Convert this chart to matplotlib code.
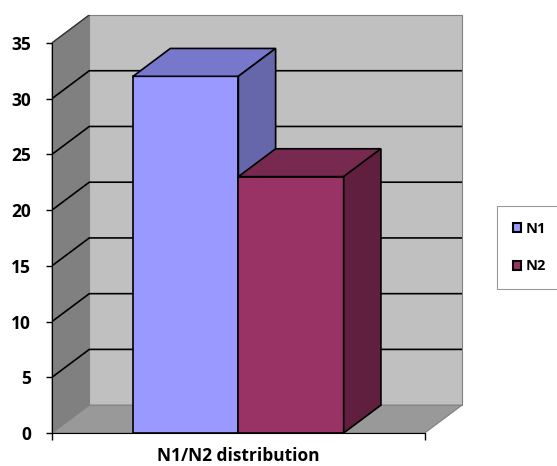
import matplotlib.pyplot as plt
from matplotlib.patches import Polygon, Patch

# series
categories = ["N1", "N2"]
values = [32, 23]
front_colors = ["#9999FF", "#993366"]
top_colors = ["#7777CC", "#77294F"]
side_colors = ["#6666AA", "#611F40"]
yticks = [0, 5, 10, 15, 20, 25, 30, 35]
xlabel = "N1/N2 distribution"

ymax = 35
ddx, ddy = 0.1, 2.5   # depth offset of the fake 3d box

plt.rcParams['font.family'] = ['Open Sans', 'DejaVu Sans']
fig = plt.figure(figsize=(5.57, 4.66), dpi=100)
ax = fig.add_axes([52 / 557, 33 / 466, 410 / 557, 418 / 466])
ax.set_xlim(0, 1 + ddx)
ax.set_ylim(0, ymax + ddy)

# walls and floor
wall_edge = "#808080"
ax.add_patch(Polygon([(0, 0), (0, ymax), (ddx, ymax + ddy), (ddx, ddy)],
                     closed=True, fc="#808080", ec=wall_edge, lw=0.8, zorder=0, clip_on=False))
ax.add_patch(Polygon([(ddx, ddy), (ddx, ymax + ddy), (1 + ddx, ymax + ddy), (1 + ddx, ddy)],
                     closed=True, fc="#C0C0C0", ec=wall_edge, lw=0.8, zorder=0, clip_on=False))
ax.add_patch(Polygon([(0, 0), (1, 0), (1 + ddx, ddy), (ddx, ddy)],
                     closed=True, fc="#999999", ec=wall_edge, lw=0.8, zorder=0, clip_on=False))

# gridlines: side wall diagonal + back wall
for v in yticks[1:-1]:
    ax.plot([0, ddx, 1 + ddx], [v, v + ddy, v + ddy], color="black", lw=1.2, zorder=1,
            solid_capstyle="butt")
ax.plot([0, ddx], [ymax, ymax + ddy], color="#333333", lw=1.0, zorder=1)

# bars
w = 0.2825
xs = [0.5 - w / 2, 0.5 + w / 2]
z = 3
for i in range(len(values)):
    v = values[i]
    x0, x1 = xs[i] - w / 2, xs[i] + w / 2
    ax.bar(xs[i], v, width=w, color=front_colors[i], edgecolor="black", lw=1.2, zorder=z)
    ax.add_patch(Polygon([(x0, v), (x0 + ddx, v + ddy), (x1 + ddx, v + ddy), (x1, v)],
                         closed=True, fc=top_colors[i], ec="black", lw=1.2, zorder=z + 1))
    ax.add_patch(Polygon([(x1, 0), (x1 + ddx, ddy), (x1 + ddx, v + ddy), (x1, v)],
                         closed=True, fc=side_colors[i], ec="black", lw=1.2, zorder=z + 1))
    z += 2

# axes lines
for s in ["top", "right"]:
    ax.spines[s].set_visible(False)
ax.spines["left"].set_bounds(0, ymax)
ax.spines["bottom"].set_bounds(0, 1)
ax.spines["left"].set_zorder(10)
ax.spines["bottom"].set_zorder(10)
ax.set_yticks(yticks)
ax.set_yticklabels([str(t) for t in yticks], fontsize=12.5, fontweight="bold")
ax.tick_params(axis="y", length=4, width=1, pad=11)
ax.set_xticks([0, 1])
ax.set_xticklabels(["", ""])
ax.tick_params(axis="x", length=5, width=1)
fig.text(238 / 557, 1 - 456 / 466, xlabel, ha="center", va="center",
         fontsize=12.5, fontweight="bold")

handles = [Patch(fc=front_colors[i], ec="black", lw=1.5) for i in range(len(categories))]
leg = fig.legend(handles, categories, loc="upper left",
                 bbox_to_anchor=(497 / 557, 1 - 206 / 466), borderaxespad=0,
                 prop={"size": 10.5, "weight": "bold"}, handlelength=0.55, handleheight=0.55,
                 handletextpad=0.3, labelspacing=1.6, borderpad=1.1, fancybox=False,
                 edgecolor="#808080")
leg.get_frame().set_linewidth(0.8)

fig.savefig("out.png", dpi=100)
